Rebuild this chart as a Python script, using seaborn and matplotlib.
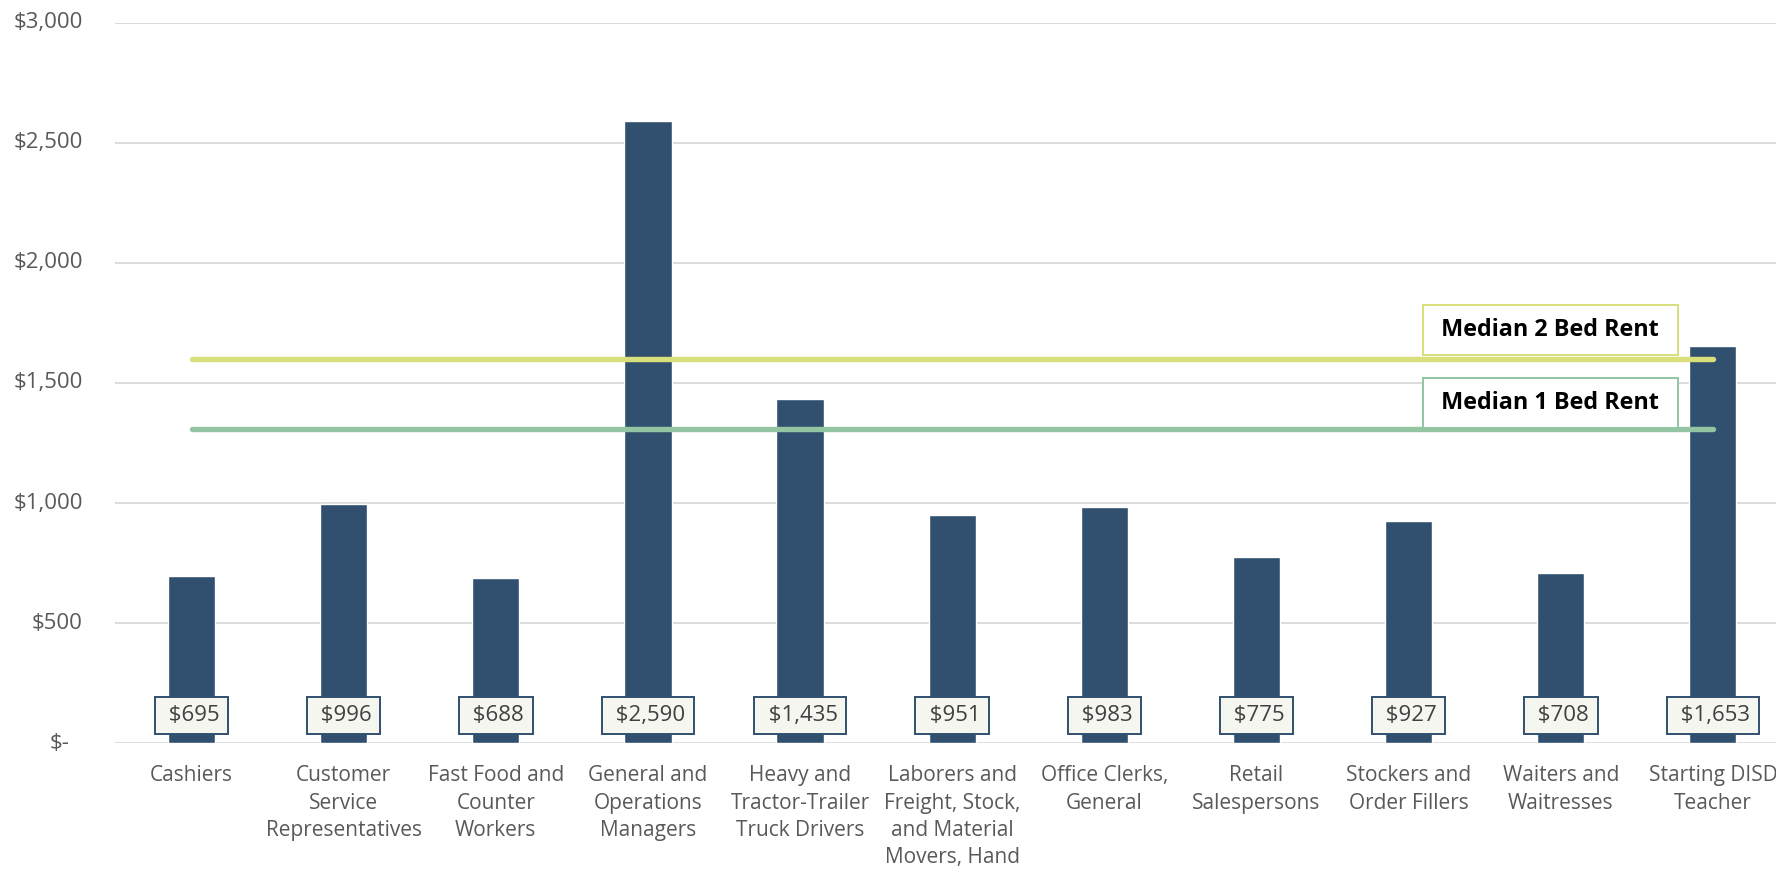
#!/usr/bin/env python3
"""Monthly wages by occupation vs median rent (bar + reference lines)."""
import numpy as np
import pandas as pd
import matplotlib
matplotlib.use('Agg')
import matplotlib.pyplot as plt
import matplotlib.transforms as mtransforms
import seaborn as sns

# data
occupations = [
    'Cashiers',
    'Customer\nService\nRepresentatives',
    'Fast Food and\nCounter\nWorkers',
    'General and\nOperations\nManagers',
    'Heavy and\nTractor-Trailer\nTruck Drivers',
    'Laborers and\nFreight, Stock,\nand Material\nMovers, Hand',
    'Office Clerks,\nGeneral',
    'Retail\nSalespersons',
    'Stockers and\nOrder Fillers',
    'Waiters and\nWaitresses',
    'Starting DISD\nTeacher',
]
monthly_pay = [695, 996, 688, 2590, 1435, 951, 983, 775, 927, 708, 1653]
rent_2bed = 1600
rent_1bed = 1310
rent_labels = ['Median 2 Bed Rent', 'Median 1 Bed Rent']
y_ticks = [0, 500, 1000, 1500, 2000, 2500, 3000]

BAR = '#31506f'
C2 = '#d9df7a'
C1 = '#93c5a2'
GREY = '#595959'
FONT = ['Open Sans', 'DejaVu Sans']

sns.set_theme(style='white')
plt.rcParams['font.family'] = FONT

df = pd.DataFrame({'occupation': occupations, 'pay': monthly_pay})

fig = plt.figure(figsize=(17.76, 8.69), dpi=100)
ax = fig.add_axes([0.065, 0.1447, 0.9423, 0.8292])

sns.barplot(data=df, x='occupation', y='pay', color=BAR, saturation=1,
            width=0.31, ax=ax, zorder=2)

# rent reference lines across the categories
for val, col in [(rent_2bed, C2), (rent_1bed, C1)]:
    sns.lineplot(x=occupations, y=[val] * len(occupations), color=col, lw=3.9,
                 solid_capstyle='round', ax=ax, zorder=3, legend=False)

ax.set_xlim(-0.5, len(occupations) - 0.5)
ax.set_ylim(0, 3000)
ax.set_yticks(y_ticks)
ax.set_xlabel('')
ax.set_ylabel('')
sns.despine(ax=ax, left=True, bottom=True)
ax.yaxis.grid(True, color='#d9d9d9', lw=1.3)
ax.set_axisbelow(True)
ax.tick_params(axis='x', length=0, pad=16, labelsize=15, labelcolor=GREY)
ax.tick_params(axis='y', length=0, labelleft=False)
for t in ax.get_xticklabels():
    t.set_linespacing(1.38)

# y labels drawn as plain text, right aligned; "$-" sits a bit further left (accounting format)
ylab_tr = ax.get_yaxis_transform()
for v in y_ticks:
    shift = -13 if v == 0 else 0
    ax.annotate('$-' if v == 0 else f'${v:,}', xy=(0, v), xycoords=ylab_tr,
                xytext=(-32.5 + shift, 0), textcoords='offset pixels',
                ha='right', va='center', fontsize=16, color=GREY)

# value boxes sitting on the baseline
for i, v in enumerate(monthly_pay):
    ax.annotate(f' ${v:,}', xy=(i, 0), xytext=(0, 20), textcoords='offset points',
                ha='center', va='center', fontsize=16, color='#404040', zorder=5,
                bbox=dict(boxstyle='square,pad=0.38', fc='#f6f6f1', ec=BAR, lw=1.4))

# rent labels at the right end of each line
last = len(occupations) - 1
for val, col, lab, dy in [(rent_2bed, C2, rent_labels[0], 21), (rent_1bed, C1, rent_labels[1], 18.5)]:
    ax.annotate(f' {lab} ', xy=(last, val), xytext=(-117, dy), textcoords='offset points',
                ha='center', va='center', fontsize=16.8, fontweight='bold', color='black',
                zorder=6, bbox=dict(boxstyle='square,pad=0.55', fc='white', ec=col, lw=1.4))

fig.savefig('out.png', dpi=100)
